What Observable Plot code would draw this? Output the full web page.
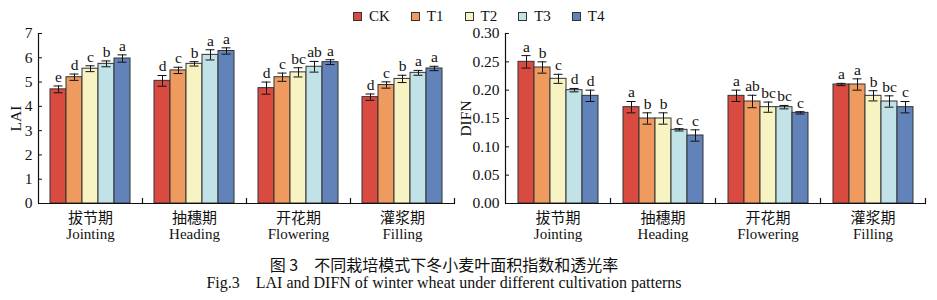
<!DOCTYPE html>
<html>
<head>
<meta charset="utf-8">
<script src="https://cdn.jsdelivr.net/npm/d3@7"></script>
<script src="https://cdn.jsdelivr.net/npm/@observablehq/plot@0.6"></script>
<style>
  body { margin: 0; background: #fff; }
  #wrap { position: relative; width: 937px; height: 300px; font-family: "Liberation Serif", "Noto Sans CJK SC", serif; color: #111; }
  #legend { position: absolute; top: 8px; left: 353px; display: flex; align-items: center; font-size: 15px; }
  .item { display: flex; align-items: center; margin-right: 21px; }
  .sw { width: 7px; height: 7px; border: 1px solid #333; margin-right: 7px; }
  #left { position: absolute; left: 0; top: 0; }
  #right { position: absolute; left: 452px; top: 0; }
  .cap { position: absolute; left: 0; width: 888px; text-align: center; line-height: 16px; }
  #capzh { top: 256px; font-size: 16px; font-family: "Noto Sans CJK SC", sans-serif; }
  #capen { top: 275px; font-size: 16px; font-family: "Liberation Serif", serif; white-space: pre; }
</style>
</head>
<body>
<div id="wrap">
  <div id="legend"></div>
  <div id="left"></div>
  <div id="right"></div>
  <div class="cap" id="capzh">图 3　不同栽培模式下冬小麦叶面积指数和透光率</div>
  <div class="cap" id="capen">Fig.3    LAI and DIFN of winter wheat under different cultivation patterns</div>
</div>
<script>
const stagesZh = ["拔节期", "抽穗期", "开花期", "灌浆期"];
const stagesEn = ["Jointing", "Heading", "Flowering", "Filling"];
const treatments = ["CK", "T1", "T2", "T3", "T4"];
const colors = ["#d94b40", "#ef9b60", "#f7f3c3", "#c1e2e7", "#6283ba"];

const laiMean = [
  [4.70, 5.20, 5.55, 5.75, 5.97],
  [5.05, 5.48, 5.75, 6.12, 6.28],
  [4.75, 5.20, 5.40, 5.63, 5.82],
  [4.38, 4.88, 5.13, 5.38, 5.56]
];
const laiErr = [
  [0.14, 0.13, 0.12, 0.12, 0.15],
  [0.22, 0.13, 0.09, 0.21, 0.13],
  [0.25, 0.17, 0.19, 0.22, 0.10],
  [0.13, 0.13, 0.15, 0.10, 0.09]
];
const laiLetters = [
  ["e", "d", "c", "b", "a"],
  ["d", "c", "b", "a", "a"],
  ["d", "c", "bc", "ab", "a"],
  ["d", "c", "b", "a", "a"]
];

const difnMean = [
  [0.25, 0.24, 0.22, 0.20, 0.19],
  [0.17, 0.15, 0.15, 0.13, 0.12],
  [0.19, 0.18, 0.17, 0.17, 0.16],
  [0.21, 0.21, 0.19, 0.18, 0.17]
];
const difnErr = [
  [0.011, 0.010, 0.008, 0.003, 0.010],
  [0.010, 0.010, 0.010, 0.002, 0.010],
  [0.010, 0.011, 0.009, 0.003, 0.002],
  [0.002, 0.010, 0.009, 0.010, 0.010]
];
const difnLetters = [
  ["a", "b", "c", "d", "d"],
  ["a", "b", "b", "c", "c"],
  ["a", "ab", "bc", "bc", "c"],
  ["a", "a", "b", "bc", "c"]
];

const laiTicks = [0, 1, 2, 3, 4, 5, 6, 7];
const difnTicks = [0, 0.05, 0.10, 0.15, 0.20, 0.25, 0.30];

function table(means, errs, letters) {
  const rows = [];
  stagesZh.forEach((s, i) => treatments.forEach((t, j) => rows.push({
    stage: s, treat: t, v: means[i][j], e: errs[i][j], letter: letters[i][j]
  })));
  return rows;
}

const FONT = "Liberation Serif, Noto Sans CJK SC, serif";

function chart(rows, {width, marginLeft, marginRight, domain, ticks, fmt, label, labelOffset}) {
  return Plot.plot({
    width, height: 250,
    marginTop: 33, marginBottom: 47, marginLeft, marginRight,
    style: {fontFamily: FONT, fontSize: "15px", color: "#111", background: "transparent", overflow: "visible"},
    fx: {domain: stagesZh, padding: 0, label: null},
    x: {domain: treatments, paddingInner: 0, paddingOuter: 0.625, axis: null},
    y: {domain, label: null},
    color: {domain: treatments, range: colors},
    marks: [
      Plot.barY(rows, {fx: "stage", x: "treat", y: "v", fill: "treat", stroke: "#333", strokeWidth: 1}),
      Plot.ruleX(rows, {fx: "stage", x: "treat", y1: d => d.v - d.e, y2: d => d.v + d.e, stroke: "#111", strokeWidth: 1}),
      Plot.tickY(rows, {fx: "stage", x: "treat", y: d => d.v + d.e, insetLeft: 3.5, insetRight: 3.5, stroke: "#111", strokeWidth: 1}),
      Plot.tickY(rows, {fx: "stage", x: "treat", y: d => d.v - d.e, insetLeft: 3.5, insetRight: 3.5, stroke: "#111", strokeWidth: 1}),
      Plot.text(rows, {fx: "stage", x: "treat", y: d => d.v + d.e, text: "letter", dy: -9, fontSize: 15.5, fill: "#111"}),
      Plot.ruleY([0], {stroke: "#111", strokeWidth: 1.2}),
      Plot.frame({anchor: "left", facetAnchor: "left", stroke: "#111", strokeWidth: 1.2}),
      Plot.frame({anchor: "right", insetTop: 165, stroke: "#111", strokeWidth: 1.2}),
      Plot.axisY({ticks, tickFormat: fmt, tickSize: -4, tickPadding: 10, fontSize: 15.5,
        label, labelAnchor: "center", labelOffset, labelArrow: "none"}),
      Plot.axisFx({anchor: "bottom", tickSize: 0, tickPadding: 7, fontSize: 15, lineHeight: 1.13, label: null,
        tickFormat: s => s + "\n" + stagesEn[stagesZh.indexOf(s)]})
    ]
  });
}

document.getElementById("left").append(chart(table(laiMean, laiErr, laiLetters), {
  width: 452, marginLeft: 36, marginRight: -3, domain: [0, 7], ticks: laiTicks,
  fmt: d3.format("d"), label: "LAI", labelOffset: 29
}));
document.getElementById("right").append(chart(table(difnMean, difnErr, difnLetters), {
  width: 485, marginLeft: 53, marginRight: 12, domain: [0, 0.3], ticks: difnTicks,
  fmt: d3.format(".2f"), label: "DIFN", labelOffset: 46
}));

const legend = d3.select("#legend");
treatments.forEach((t, i) => {
  const it = legend.append("div").attr("class", "item");
  it.append("div").attr("class", "sw").style("background", colors[i]);
  it.append("span").text(t);
});
</script>
</body>
</html>
